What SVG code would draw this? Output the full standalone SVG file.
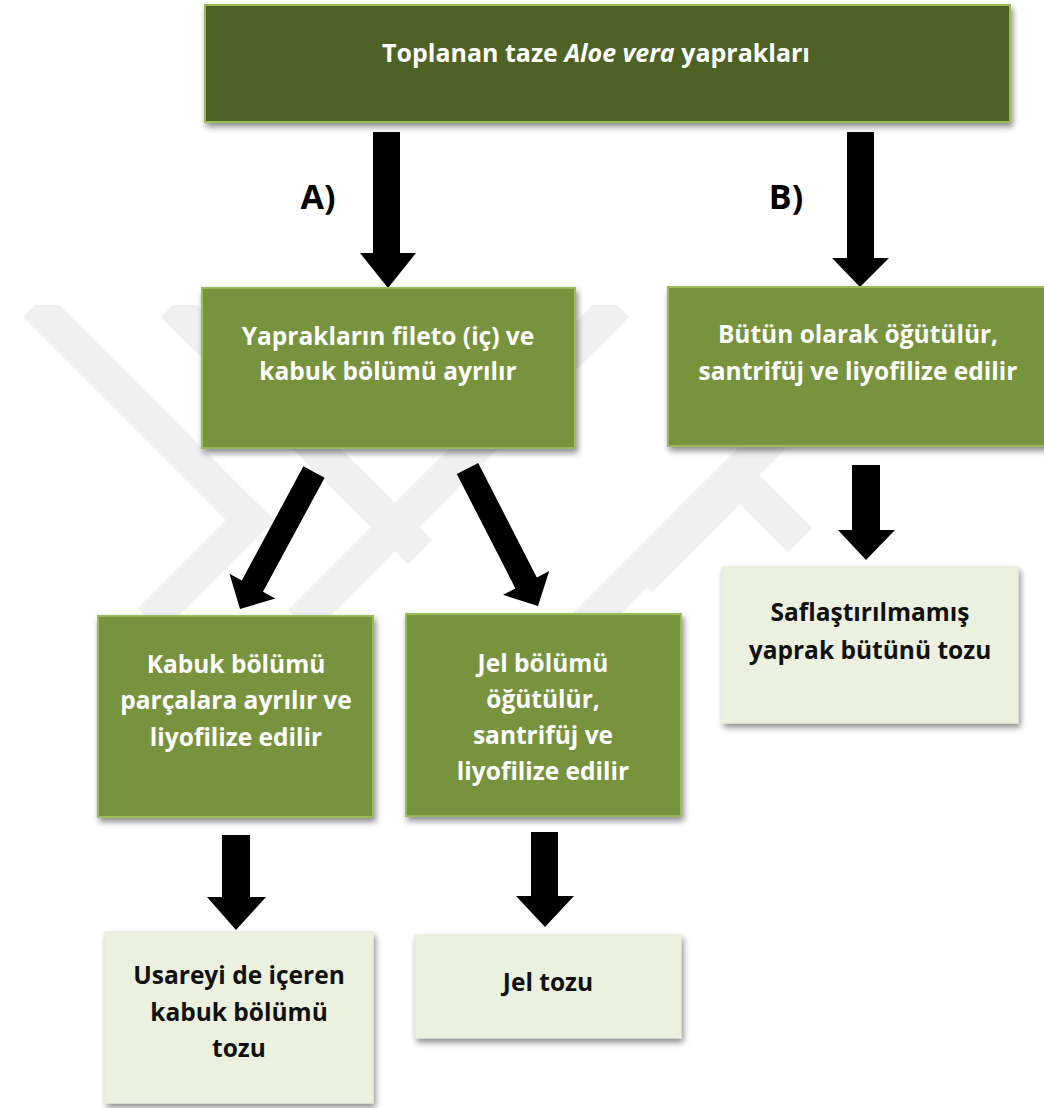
<svg xmlns="http://www.w3.org/2000/svg" width="1044" height="1108" viewBox="0 0 1044 1108">
  <defs>
    <filter id="shadow" x="-10%" y="-10%" width="120%" height="130%">
      <feDropShadow dx="2" dy="4" stdDeviation="3" flood-color="#000" flood-opacity="0.45"/>
    </filter>
    <clipPath id="wmClip">
      <rect x="0" y="305" width="1044" height="400"/>
    </clipPath>
    <style>
      .dark { fill: #4f6228; stroke: #9bbb59; stroke-width: 2; }
      .mid { fill: #77933c; stroke: #9bbb59; stroke-width: 2; }
      .light { fill: #ebf1de; stroke: #e4ead6; stroke-width: 1; }
      .wt { font-family: "Open Sans", "Liberation Sans", sans-serif; font-weight: bold; font-size: 24.5px; fill: #ffffff; text-anchor: middle; }
      .title { font-size: 25px; }
      .bt { font-family: "Open Sans", "Liberation Sans", sans-serif; font-weight: bold; font-size: 24.5px; fill: #111111; text-anchor: middle; }
      .lbl { font-family: "Open Sans", "Liberation Sans", sans-serif; font-weight: bold; font-size: 34px; fill: #000000; text-anchor: middle; }
      .arrow { fill: #000000; }
      .wm { fill: none; stroke: #f0f0f0; stroke-width: 34; stroke-linejoin: miter; }
    </style>
  </defs>

  <rect width="1044" height="1108" fill="#ffffff"/>

  <!-- faint background emblem -->
  <g id="watermark" clip-path="url(#wmClip)">
    <polyline class="wm" points="35,305 250,520 150,620"/>
    <polyline class="wm" points="173,305 420,552"/>
    <polyline class="wm" points="617,305 300,622"/>
    <polyline class="wm" points="780,430 560,650"/>
    <polyline class="wm" points="640,580 740,480 800,540"/>
  </g>

  <!-- connectors: block arrows -->
  <g id="connectors">
    <polygon class="arrow" points="373,132 400,132 400,253 416,253 388,288 360,253 373,253"/>
    <polygon class="arrow" points="847,132 874,132 874,258 889,258 860,287 832,258 847,258"/>
    <polygon class="arrow" points="303.4,466.3 324.6,477.7 263,591.8 275.3,598.4 240,609 229.5,573.8 241.8,580.4"/>
    <polygon class="arrow" points="456.8,474 478.2,463 536.8,577.4 549.2,571 538,606 503,594.8 515.4,588.4"/>
    <polygon class="arrow" points="852,465 880,465 880,530 895,530 866,560 838,530 852,530"/>
    <polygon class="arrow" points="222,835 250,835 250,897 266,897 236,930 207,897 222,897"/>
    <polygon class="arrow" points="531,832 558,832 558,896 574,896 545,927 516,896 531,896"/>
  </g>

  <text class="lbl" x="318" y="209">A)</text>
  <text class="lbl" x="786" y="209">B)</text>

  <g id="node-harvest">
    <rect class="dark" x="205" y="5" width="805" height="117" filter="url(#shadow)"/>
    <text class="wt title" x="596" y="62">Toplanan taze <tspan font-style="italic">Aloe vera</tspan> yaprakları</text>
  </g>

  <g id="node-separate">
    <rect class="mid" x="202" y="288" width="373" height="160" filter="url(#shadow)"/>
    <text class="wt" x="388" y="345">Yaprakların fileto (iç) ve</text>
    <text class="wt" x="388" y="380">kabuk bölümü ayrılır</text>
  </g>

  <g id="node-whole">
    <rect class="mid" x="668" y="287" width="380" height="159" filter="url(#shadow)"/>
    <text class="wt" x="858" y="343">Bütün olarak öğütülür,</text>
    <text class="wt" x="858" y="380">santrifüj ve liyofilize edilir</text>
  </g>

  <g id="node-peel">
    <rect class="mid" x="98" y="616" width="275" height="201" filter="url(#shadow)"/>
    <text class="wt" x="236" y="673">Kabuk bölümü</text>
    <text class="wt" x="236" y="709">parçalara ayrılır ve</text>
    <text class="wt" x="236" y="746">liyofilize edilir</text>
  </g>

  <g id="node-gel">
    <rect class="mid" x="406" y="614" width="275" height="202" filter="url(#shadow)"/>
    <text class="wt" x="543" y="672">Jel bölümü</text>
    <text class="wt" x="543" y="708">öğütülür,</text>
    <text class="wt" x="543" y="744">santrifüj ve</text>
    <text class="wt" x="543" y="780">liyofilize edilir</text>
  </g>

  <g id="node-peel-powder">
    <rect class="light" x="105" y="932" width="268" height="171" filter="url(#shadow)"/>
    <text class="bt" x="239" y="984">Usareyi de içeren</text>
    <text class="bt" x="239" y="1021">kabuk bölümü</text>
    <text class="bt" x="239" y="1057">tozu</text>
  </g>

  <g id="node-gel-powder">
    <rect class="light" x="415" y="935" width="266" height="103" filter="url(#shadow)"/>
    <text class="bt" x="548" y="991">Jel tozu</text>
  </g>

  <g id="node-whole-powder">
    <rect class="light" x="722" y="567" width="296" height="156" filter="url(#shadow)"/>
    <text class="bt" x="870" y="621">Saflaştırılmamış</text>
    <text class="bt" x="870" y="659">yaprak bütünü tozu</text>
  </g>
</svg>
